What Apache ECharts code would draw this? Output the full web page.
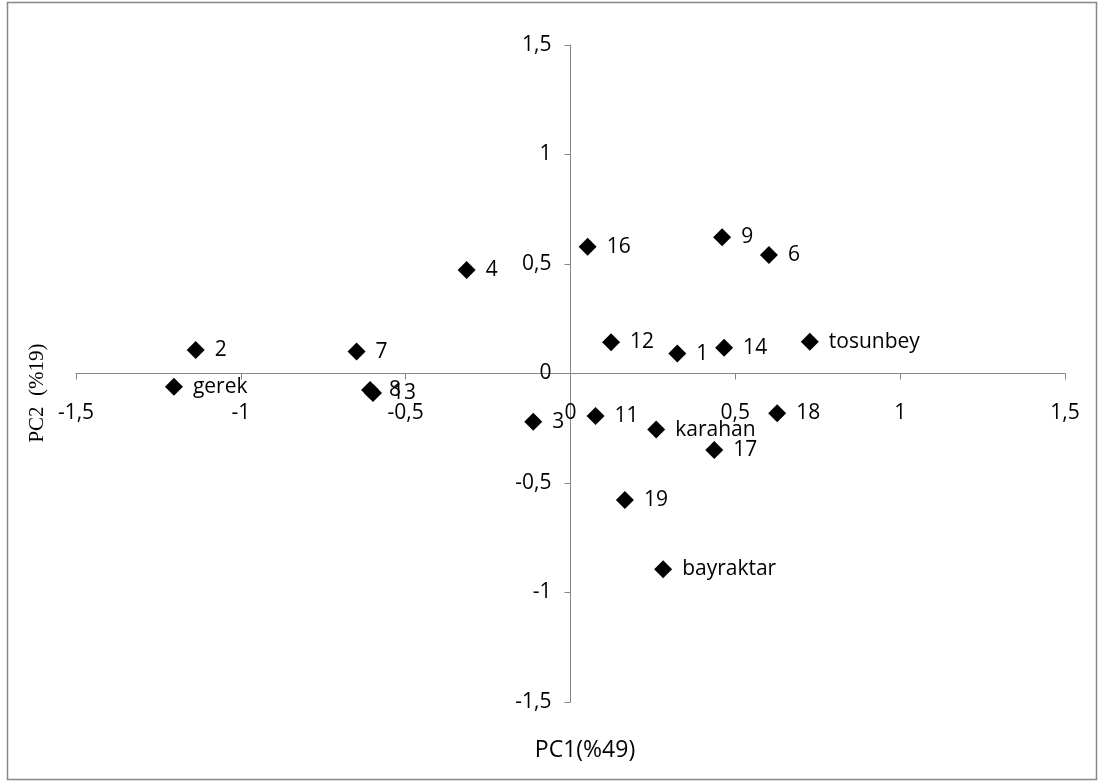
<!DOCTYPE html>
<html>
<head>
<meta charset="utf-8">
<script src="https://cdn.jsdelivr.net/npm/echarts@6/dist/echarts.min.js"></script>
<style>html,body{margin:0;padding:0;background:#fff;}#c{width:1100px;height:783px;}</style>
</head>
<body>
<div id="c"></div>
<script>
var names = ['gerek','2','7','8','13','4','3','16','11','12','karahan','1','19','bayraktar','17','9','14','6','18','tosunbey'];
var pc1 = [-1.203,-1.137,-0.649,-0.608,-0.599,-0.315,-0.113,0.052,0.076,0.123,0.260,0.324,0.165,0.281,0.436,0.460,0.466,0.602,0.627,0.726];
var pc2 = [-0.060,0.107,0.100,-0.075,-0.089,0.473,-0.220,0.579,-0.194,0.143,-0.256,0.091,-0.578,-0.894,-0.349,0.622,0.118,0.541,-0.181,0.145];
var tickMin = -1.5, tickMax = 1.5, tickStep = 0.5;

var data = names.map(function(n, i){ return {name: n, value: [pc1[i], pc2[i]]}; });
function fmt(v){ return (Math.round(v*10)/10).toString().replace('.', ','); }
var font = '"Open Sans", sans-serif';
var axisCol = '#868686';

var chart = echarts.init(document.getElementById('c'));
var option = {
  animation: false,
  backgroundColor: '#fff',
  grid: {left: 76, right: 35, top: 45, bottom: 81, containLabel: false},
  xAxis: {
    type: 'value', min: tickMin, max: tickMax, interval: tickStep, position: 'bottom', offset: 0,
    axisLine: {onZero: false, lineStyle: {color: axisCol, width: 1}},
    axisTick: {show: true, length: 6, lineStyle: {color: axisCol}},
    splitLine: {show: false},
    axisLabel: {margin: 29, color: '#000', fontSize: 21, fontFamily: font, formatter: fmt}
  },
  yAxis: {
    type: 'value', min: tickMin, max: tickMax, interval: tickStep, position: 'left', offset: 0,
    axisLine: {onZero: false, lineStyle: {color: axisCol, width: 1}},
    axisTick: {show: true, length: 6, lineStyle: {color: axisCol}},
    splitLine: {show: false},
    axisLabel: {margin: 19, color: '#000', fontSize: 21, fontFamily: font, formatter: fmt}
  },
  graphic: [
    {type: 'rect', shape: {x: 7.5, y: 2.5, width: 1089, height: 777}, style: {fill: 'none', stroke: axisCol, lineWidth: 1.5}, z: -1},
    {type: 'text', x: 585, y: 750, style: {text: 'PC1(%49)', font: '23px "Open Sans", sans-serif', fill: '#000', textAlign: 'center', textVerticalAlign: 'middle'}},
    {type: 'text', x: 37, y: 393, rotation: Math.PI/2, style: {text: 'PC2  (%19)', font: '21px "Liberation Serif", serif', fill: '#000', textAlign: 'center', textVerticalAlign: 'middle'}}
  ],
  series: [{
    type: 'scatter',
    symbol: 'diamond',
    symbolSize: 18,
    itemStyle: {color: '#000', opacity: 1},
    label: {show: true, position: 'right', distance: 10, formatter: '{b}', color: '#000', fontSize: 21, fontFamily: font, offset: [0, 3]},
    labelLayout: {hideOverlap: false},
    data: data
  }]
};
chart.setOption(option);
// move axes so they cross at zero, using the library's own scale
var zero = chart.convertToPixel({gridIndex: 0}, [0, 0]);
var origin = chart.convertToPixel({gridIndex: 0}, [tickMin, tickMin]);
chart.setOption({
  xAxis: {offset: -(origin[1] - zero[1])},
  yAxis: {offset: -(zero[0] - origin[0])}
});
</script>
</body>
</html>
